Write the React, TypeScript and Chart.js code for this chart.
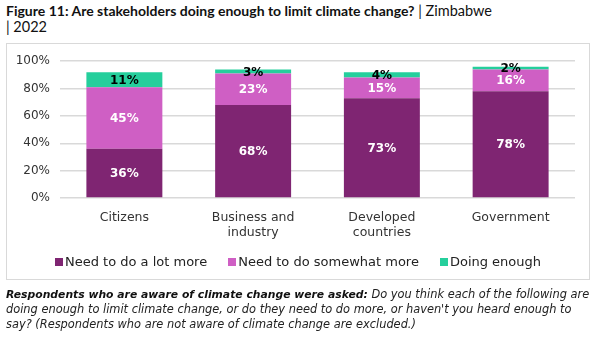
import React, { useEffect, useRef } from "react";
import { Chart, registerables } from "chart.js";

Chart.register(...registerables);

const categories: (string | string[])[] = ["Citizens", ["Business and", "industry"], ["Developed", "countries"], "Government"];
const seriesNames = ["Need to do a lot more", "Need to do somewhat more", "Doing enough"];
const seriesColors = ["#7F2572", "#CF5FC4", "#25CF9C"];
const lotMore = [36, 68, 73, 78];
const somewhatMore = [45, 23, 15, 16];
const doingEnough = [11, 3, 4, 2];
const yTicks = [0, 20, 40, 60, 80, 100];

const FONT = "'DejaVu Sans', sans-serif";

const labelPlugin = {
  id: "segLabels",
  afterDatasetsDraw(chart: any) {
    const ctx = chart.ctx;
    ctx.save();
    ctx.font = "bold 12px " + FONT;
    ctx.textAlign = "center";
    ctx.textBaseline = "middle";
    chart.data.datasets.forEach((ds: any, di: number) => {
      const meta = chart.getDatasetMeta(di);
      meta.data.forEach((el: any, i: number) => {
        const v = ds.data[i];
        const y = (el.y + el.base) / 2;
        ctx.fillStyle = di === 2 ? "#000000" : "#ffffff";
        ctx.fillText(v + "%", el.x, y + 1);
      });
    });
    ctx.restore();
  },
};

export default function App() {
  const ref = useRef<HTMLCanvasElement>(null);
  useEffect(() => {
    document.body.style.margin = "0";
    const chart = new Chart(ref.current!, {
      type: "bar",
      data: {
        labels: categories,
        datasets: [
          { label: seriesNames[0], data: lotMore, backgroundColor: seriesColors[0] },
          { label: seriesNames[1], data: somewhatMore, backgroundColor: seriesColors[1] },
          { label: seriesNames[2], data: doingEnough, backgroundColor: seriesColors[2] },
        ],
      },
      options: {
        animation: false,
        responsive: false,
        maintainAspectRatio: false,
        datasets: { bar: { categoryPercentage: 1, barPercentage: 0.59 } },
        layout: { padding: { left: 0, right: 14, top: 16, bottom: 0 } },
        plugins: {
          tooltip: { enabled: false },
          legend: { display: false },
        },
        scales: {
          x: {
            stacked: true,
            afterFit(scale: any) { scale.height = 81; },
            grid: { display: false, drawTicks: false },
            border: { display: false },
            ticks: { font: { family: FONT, size: 12.5 }, color: "#333", maxRotation: 0, padding: 12 },
          },
          y: {
            stacked: true,
            min: 0,
            max: 100,
            afterFit(scale: any) { scale.width = 53; },
            afterBuildTicks(scale: any) { scale.ticks = yTicks.map((v) => ({ value: v })); },
            grid: { color: "#d9d9d9", lineWidth: 1.5, drawTicks: false },
            border: { display: false },
            ticks: { font: { family: FONT, size: 12 }, color: "#333", padding: 10, callback: (v: any) => v + "%" },
          },
        },
      },
      plugins: [labelPlugin],
    });
    return () => chart.destroy();
  }, []);

  return (
    <div style={{ position: "relative", width: 602, height: 340, background: "#fff", fontFamily: FONT, overflow: "hidden" }}>
      <div style={{ position: "absolute", left: 6, top: 3, width: 540, fontSize: 14, lineHeight: "16px", color: "#111", fontFamily: "Lato, sans-serif" }}>
        <b>Figure 11: Are stakeholders doing enough to limit climate change?</b>
        <span style={{ fontSize: 14.5 }}> | Zimbabwe</span>
        <br />
        <span style={{ fontSize: 14.5 }}>| 2022</span>
      </div>
      <div style={{ position: "absolute", left: 6, top: 43, width: 582, height: 235, border: "1px solid #d9d9d9" }}>
        <canvas ref={ref} width={582} height={235} style={{ display: "block" }} />
        <div style={{ position: "absolute", left: 0, top: 209, width: 582, display: "flex", justifyContent: "center", gap: 21, fontSize: 13, color: "#222", lineHeight: "18px" }}>
          {seriesNames.map((n, i) => (
            <span key={n} style={{ display: "flex", alignItems: "center" }}>
              <span style={{ display: "inline-block", width: 8, height: 8, background: seriesColors[i], marginRight: 2 }} />
              {n}
            </span>
          ))}
        </div>
      </div>
      <div style={{ position: "absolute", left: 6, top: 287, width: 596, fontSize: 11.4, lineHeight: "15px", fontStyle: "italic", color: "#222", whiteSpace: "nowrap" }}>
        <b style={{ fontSize: 10.8, color: "#111" }}>Respondents who are aware of climate change were asked:</b> Do you think each of the following are
        <br />
        doing enough to limit climate change, or do they need to do more, or haven't you heard enough to
        <br />
        say? (Respondents who are not aware of climate change are excluded.)
      </div>
    </div>
  );
}
